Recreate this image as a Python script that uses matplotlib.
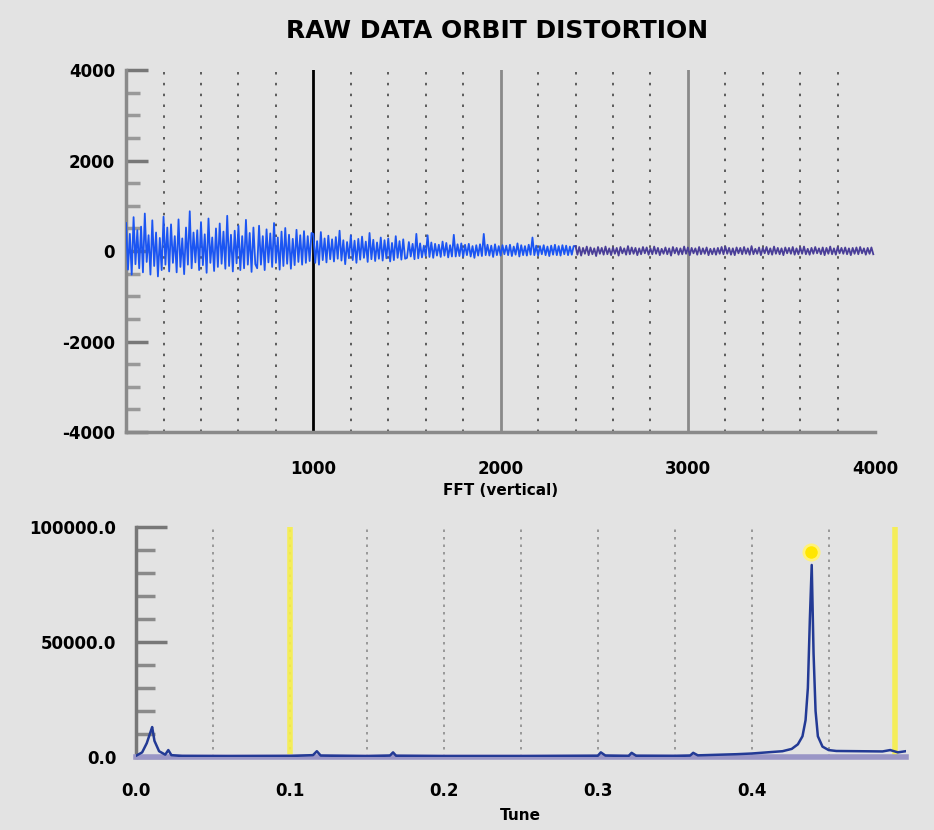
import matplotlib.pyplot as plt
import numpy as np

plt.rcParams['axes.unicode_minus'] = False

# ---------- data ----------
turn_step = 10
orbit = [620, -410, 380, -520, 750, -290, 460, -380, 540, -470,
         830, -240, 350, -520, 680, -330, 410, -560, 290, -420,
         760, -300, 520, -450, 590, -260, 330, -470, 700, -350,
         280, -510, 520, -300, 880, -380, 410, -250, 460, -420,
         640, -310, 370, -480, 720, -260, 300, -440, 500, -350,
         610, -280, 430, -390, 780, -330, 360, -450, 450, -270,
         560, -420, 330, -380, 690, -300, 400, -460, 520, -290,
         # 700 - 1000
         -380, 560, -300, 330, -420, 480, -250, 390, -350, 620,
         -260, 300, -410, 430, -330, 510, -280, 360, -390, 270,
         -310, 470, -240, 350, -300, 440, -260, 330, -220, 400,
         # 1000 - 1500
         380, -260, 220, -300, 420, -200, 280, -250, 340, -180,
         260, -230, 310, -170, 450, -210, 240, -290, 200, -160,
         350, -200, 230, -260, 270, -190, 320, -150, 210, -240,
         400, -180, 250, -220, 190, -170, 300, -210, 240, -160,
         280, -230, 180, -200, 330, -150, 220, -190, 260, -170,
         # 1500 - 2400
         -150, 200, -120, 160, -180, 380, -160, 170, -140, 120,
         -110, 350, -130, 190, -150, 160, -100, 140, -130, 210,
         -100, 180, -140, 130, -120, 360, -120, 150, -110, 170,
         -130, 140, -90, 160, -120, 110, -150, 130, -100, 150,
         -110, 380, -90, 140, -100, 120, -130, 150, -90, 110,
         -100, 130, -70, 120, -90, 140, -110, 100, -80, 170,
         -120, 130, -90, 110, -100, 140, -80, 300, -90, 120,
         -100, 110, -70, 130, -90, 100, -110, 120, -80, 140,
         -90, 110, -100, 130, -70, 120, -90, 100, -80, 110,
         # 2400 - 4000
         110, -80, 90, -100, 70, -60, 100, -90, 80, -70,
         60, -110, 90, -60, 70, -80, 100, -70, 60, -90,
         80, -60, 70, -100, 90, -50, 60, -80, 110, -70,
         80, -60, 70, -90, 60, -70, 90, -50, 80, -80,
         60, -70, 100, -60, 70, -90, 50, -60, 80, -70,
         60, -100, 90, -50, 70, -80, 60, -70, 100, -60,
         80, -90, 70, -50, 60, -80, 90, -70, 60, -60,
         80, -90, 50, -70, 60, -80, 70, -60, 90, -70,
         100, -60, 70, -80, 60, -90, 80, -50, 70, -70,
         90, -60, 60, -80, 110, -70, 50, -60, 80, -90,
         70, -50, 90, -70, 60, -80, 100, -60, 70, -70,
         60, -90, 80, -50, 70, -60, 90, -80, 60, -70,
         80, -60, 100, -70, 50, -80, 70, -60, 90, -50,
         60, -70, 80, -90, 70, -60, 100, -70, 60, -80,
         90, -50, 70, -60, 80, -70, 60, -90, 70, -60,
         80, -70, 90, -50, 60, -80, 70, -60, 80, -70]
color_switch_turn = 2400

tune = [0.000, 0.004, 0.007, 0.0095, 0.0105, 0.012, 0.015, 0.019, 0.021, 0.023,
        0.030, 0.060, 0.100, 0.115, 0.1175, 0.120, 0.150, 0.165, 0.167, 0.169,
        0.200, 0.250, 0.300, 0.302, 0.305, 0.320, 0.322, 0.325, 0.350, 0.360,
        0.362, 0.365, 0.390, 0.400, 0.410, 0.420, 0.426, 0.430, 0.433, 0.435,
        0.4365, 0.4378, 0.4390, 0.4402, 0.4415, 0.443, 0.446, 0.450, 0.455, 0.470,
        0.485, 0.490, 0.495, 0.500]
amp = [500, 2000, 6000, 11000, 13000, 7000, 2500, 1000, 3000, 800,
       400, 300, 400, 800, 2500, 600, 300, 600, 2000, 500,
       300, 300, 500, 2000, 600, 400, 1800, 500, 400, 600,
       1800, 700, 1200, 1500, 2000, 2500, 3500, 5500, 9000, 16000,
       30000, 60000, 83500, 45000, 20000, 9000, 4500, 3000, 2600, 2500,
       2400, 3000, 2000, 2500]
peak_marker = (0.4385, 89000)
tune_lines = [0.1, 0.493]

bg = '#e3e3e3'
fig = plt.figure(figsize=(9.34, 8.3), dpi=100, facecolor=bg)

# ---------- top: raw orbit ----------
ax1 = fig.add_axes([0.135, 0.4795, 0.802, 0.436])
ax1.set_facecolor(bg)
turns = np.arange(len(orbit)) * turn_step
orbit = np.array(orbit)
k = int(np.searchsorted(turns, color_switch_turn))
ax1.plot(turns[:k + 1], orbit[:k + 1], color='#1b55f2', lw=1.3, zorder=3)
ax1.plot(turns[k:], orbit[k:], color='#4a3e98', lw=1.3, zorder=3)

ax1.set_xlim(0, 4000)
ax1.set_ylim(-4000, 4000)
ax1.set_xticks([1000, 2000, 3000, 4000])
ax1.set_xticks(np.arange(200, 4000, 200), minor=True)
ax1.set_yticks([-4000, -2000, 0, 2000, 4000])
ax1.set_yticks(np.arange(-4000, 4001, 500), minor=True)
ax1.xaxis.grid(True, which='minor', color='#444444', linestyle=(0, (1.5, 5)), lw=1.2)
ax1.xaxis.grid(True, which='major', color='#8a8a8a', linestyle='-', lw=2)
gl = ax1.get_xgridlines()
gl[0].set_color('black')
gl[-1].set_visible(False)
ax1.tick_params(axis='x', which='both', length=0, pad=20)
ax1.tick_params(axis='y', which='major', direction='in', length=16, width=2.5,
                color='#777777', pad=8)
ax1.tick_params(axis='y', which='minor', direction='in', length=10, width=2.5,
                color='#999999')
ax1.yaxis.get_major_ticks()[-1].tick1line.set_color('black')
for lab in ax1.get_xticklabels() + ax1.get_yticklabels():
    lab.set_fontweight('bold')
    lab.set_fontsize(12)
for s in ['top', 'right']:
    ax1.spines[s].set_visible(False)
for s in ['left', 'bottom']:
    ax1.spines[s].set_color('#8a8a8a')
    ax1.spines[s].set_linewidth(2.5)
ax1.set_xlabel('FFT (vertical)', fontsize=11, fontweight='bold', labelpad=4)

fig.text(0.532, 1 - 31 / 830, 'RAW DATA ORBIT DISTORTION', ha='center', va='center',
         fontsize=18, fontweight='bold')

# ---------- bottom: FFT ----------
ax2 = fig.add_axes([0.1456, 0.088, 0.824, 0.277])
ax2.set_facecolor(bg)
for t in tune_lines:
    ax2.axvline(t, color='#f7ef4a', lw=4, alpha=0.9, zorder=2)
ax2.plot(tune, amp, color='#233a95', lw=1.8, zorder=3)
ax2.plot(*peak_marker, 'o', color='#ffe600', ms=11, mec='#fff27a', mew=2, zorder=4)

ax2.set_xlim(0, 0.5)
ax2.set_ylim(0, 100000)
ax2.set_xticks([0.0, 0.1, 0.2, 0.3, 0.4])
ax2.set_xticks(np.arange(0.05, 0.5, 0.1), minor=True)
ax2.set_xticklabels(['0.0', '0.1', '0.2', '0.3', '0.4'])
ax2.set_yticks([0, 50000, 100000])
ax2.set_yticklabels(['0.0', '50000.0', '100000.0'])
ax2.set_yticks(np.arange(0, 100001, 10000), minor=True)
ax2.xaxis.grid(True, which='both', color='#8c8c8c', linestyle=(0, (1.5, 3)), lw=1.2)
ax2.tick_params(axis='x', which='both', length=0, pad=18)
ax2.tick_params(axis='y', which='major', direction='in', length=22, width=2.5,
                color='#777777', pad=14)
ax2.tick_params(axis='y', which='minor', direction='in', length=14, width=2.5,
                color='#8a8a8a')
for lab in ax2.get_xticklabels() + ax2.get_yticklabels():
    lab.set_fontweight('bold')
    lab.set_fontsize(12)
for s in ['top', 'right']:
    ax2.spines[s].set_visible(False)
ax2.spines['left'].set_color('#777777')
ax2.spines['left'].set_linewidth(2.5)
ax2.spines['bottom'].set_color('#9a96c6')
ax2.spines['bottom'].set_linewidth(4)
ax2.set_xlabel('Tune', fontsize=11, fontweight='bold', labelpad=6)

fig.savefig('out.png', dpi=100, facecolor=bg)
